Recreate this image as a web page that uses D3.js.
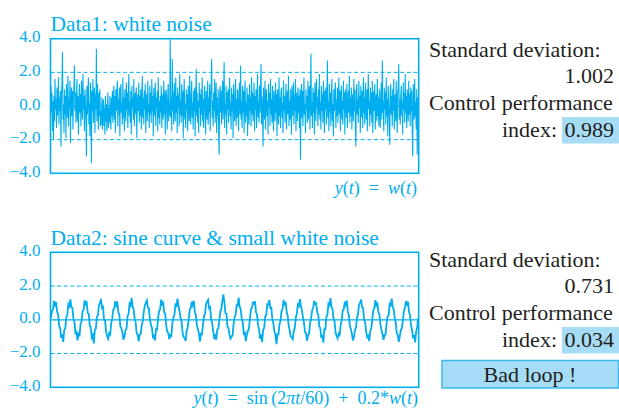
<!DOCTYPE html>
<html>
<head>
<meta charset="utf-8">
<script src="https://cdn.jsdelivr.net/npm/d3@7"></script>
<style>
  body { margin: 0; background: #fff; }
  svg { display: block; }
  text { font-family: "Liberation Serif", "Times New Roman", Times, "DejaVu Serif", serif; }
</style>
</head>
<body>
<svg id="chart" width="619" height="410"></svg>
<script>
// data1: white noise w(t) (about 2 samples per pixel)
var whiteNoise = [
  1.2, -0.4, 0.8, -1.5, 0.3, -2.0, 0.6, -0.9, 1.6, -0.2, 0.4, -1.3, 1.1, -0.6, 0.2, 1.7, -1.1, 0.5, -0.3, 0.9,
  -2.4, 0.7, 1.4, 3.2, -0.8, 0.1, -1.6, 1.0, -0.5, 0.6, -1.9, 1.3, 0.2, -0.7, 1.8, -1.2, 0.4, -0.1, 1.5, -2.2,
  0.3, 1.1, -0.6, 0.9, -1.4, 0.5, 1.2, 2.4, -0.3, 0.8, -1.0, 0.2, 1.6, -0.9, 0.6, -1.7, 0.1, 1.3, -0.4, 0.7,
  -1.2, 1.5, 0.4, -0.8, 1.9, -0.2, 0.6, -1.5, 1.0, 0.3, -0.7, -3.0, 1.2, -0.5, 0.8, 1.7, -1.1, 0.2, -1.8, 1.4,
  0.6, -3.4, 0.9, -0.3, 1.6, -1.0, 0.4, 1.1, -1.6, 0.7, -0.2, 3.4, -0.9, 1.3, 0.1, -1.4, 0.8, -0.6, 1.0, -1.2,
  -0.3, -1.1, 0.5, -1.4, -0.2, 0.4, -1.2, -0.1, -1.7, 0.6, -0.9, 0.1, -1.5, -0.4, 0.8, -1.3, -0.1, -1.0, 0.6, -0.8,
  -1.4, 0.5, -0.6, 0.9, -1.0, 0.3, 1.2, -0.8, 0.6, -1.6, 1.0, -0.3, 0.8, 1.5, -1.2, 0.4, -0.5, 1.1, -1.8, 0.7,
  1.3, -0.4, 0.2, -1.1, 1.7, -0.7, 0.5, -1.5, 1.0, 0.1, -0.9, 1.4, -0.2, 0.8, -1.3, 0.6, 1.9, -0.6, 0.3, -1.0,
  0.9, -1.7, 1.2, -0.1, 0.5, -0.8, 1.6, -1.2, 0.4, 0.8, -0.5, 1.1, -1.9, 0.2, 0.7, -0.3, 1.4, -1.0, 0.6, -0.6,
  1.0, -1.4, 0.3, 1.8, -0.7, 0.5, -1.1, 0.9, -0.2, 1.3, -1.6, 0.4, 0.7, -0.9, 1.5, -0.4, 0.1, -1.3, 1.2, -0.5,
  0.8, -1.0, 1.6, -0.3, 0.6, -1.8, 1.1, 0.2, -0.6, 1.4, -1.2, 0.5, -0.1, 0.9, -1.5, 1.7, -0.7, 0.3, -1.1, 0.6,
  -0.4, 1.2, -1.3, 0.7, 0.1, -0.8, 1.5, -0.5, 0.9, -1.7, 0.4, 1.0, -0.2, -1.4, 0.6, 1.3, -0.9, 0.2, -0.6, 3.95,
  -0.7, 0.5, -1.5, 2.8, -0.3, 0.8, -1.1, 1.4, 0.2, -0.9, 1.7, -0.4, 0.6, -1.6, 1.1, -0.1, 0.7, -1.2, 1.9, -0.5,
  0.3, -1.0, 1.3, -0.6, 0.9, -1.9, 0.4, 1.6, -0.8, 0.1, -1.3, 1.0, -0.2, 0.7, -1.5, 1.2, 0.5, -0.9, 1.8, -0.4,
  -1.1, 0.6, 1.5, -0.7, 0.2, -1.4, 0.9, -0.3, 1.1, -1.8, 0.4, 2.2, -0.6, 0.8, -1.0, 0.3, -1.6, 1.4, -0.1, 0.7,
  -1.2, 1.0, -0.5, 1.7, -0.9, 0.4, -1.3, 0.6, 1.2, -0.2, -1.7, 0.9, 0.1, -0.8, 1.5, -1.1, 0.5, -0.4, 1.3, -1.5,
  0.6, 1.1, 2.8, -0.7, 0.3, -1.2, 0.8, -0.3, 1.6, -1.0, 0.2, 1.4, -1.6, 0.5, -0.6, 1.0, -1.4, -2.9, 0.7, 1.2,
  -0.4, 0.9, -1.1, 0.3, 1.5, -0.8, 0.6, 2.6, -1.3, 0.1, -0.5, 1.2, -1.7, 0.8, -0.2, 1.0, -1.0, 0.4, 1.7, -0.6,
  0.2, -1.4, 1.1, -0.3, 0.7, -1.9, 1.3, 0.5, -0.9, 0.1, 1.6, -1.2, 0.4, -0.7, 1.0, -0.1, -1.5, 0.8, 1.4, -0.5,
  2.4, -0.8, 0.3, -1.3, 1.2, -0.4, 0.9, -1.6, 0.6, 1.5, -1.0, 0.2, -0.6, 1.1, -1.8, 0.7, 0.1, -1.1, 1.3, -0.3,
  0.5, -1.2, 1.7, -0.5, 0.8, -0.9, 0.2, 1.4, -1.5, 0.6, -0.2, 1.0, -1.3, 0.4, 1.9, -0.7, 0.3, -1.0, 1.2, -0.4,
  0.9, 2.5, -1.1, 0.6, -0.3, -2.4, 1.1, 0.2, -0.8, 1.5, -1.4, 0.5, 1.0, -0.6, 0.3, -1.7, 1.3, -0.1, 0.8, -1.2,
  1.6, -0.5, 0.4, -1.0, 1.2, -0.2, -1.5, 0.9, 0.1, -0.9, 1.4, -0.4, 0.7, -1.8, 1.0, 0.3, -1.1, 1.7, -0.6, 0.5,
  -1.3, 0.8, 1.1, -0.7, 0.2, -1.6, 1.5, -0.3, 0.6, -1.0, 0.4, 1.3, -1.4, 0.1, 0.9, -0.5, 1.8, -1.2, 0.3, -0.8,
  1.0, -0.1, -1.7, 1.2, 0.5, -0.6, 1.4, -1.1, 0.7, -0.3, 1.6, -1.5, 0.2, 0.8, -0.9, 1.1, -0.4, 0.6, -1.3, 1.0,
  -3.2, 0.4, 1.3, -0.7, 0.9, -1.2, 0.3, 1.7, -0.5, 0.1, -1.6, 1.0, -0.2, 0.6, -1.0, 1.5, -0.8, 0.4, 1.2, -1.4,
  0.7, 3.1, -0.6, 0.2, -1.3, 1.1, -0.4, 0.8, -1.7, 1.4, 0.3, -0.9, 1.6, -0.1, 0.5, -1.2, 1.0, -0.5, 1.9, -0.8,
  0.2, -1.4, 1.2, -0.3, 0.7, -1.0, 1.5, 0.4, -1.6, 0.9, -0.2, 1.1, -1.1, 0.6, 2.7, -0.7, 0.3, -1.5, 1.3, -0.4,
  0.8, -1.2, 0.5, 1.6, -0.9, 0.1, -1.8, 1.0, -0.3, 0.7, 1.4, -1.3, 0.4, -0.6, 1.1, -1.0, 0.2, 1.7, -0.5, 0.9,
  -1.5, 0.6, 1.2, -0.8, 0.3, -1.1, 1.5, -0.2, 0.8, -1.7, 1.0, 0.4, -0.7, 1.3, -1.3, 0.1, 0.9, -0.4, 1.8, -1.0,
  0.5, -0.6, 1.1, -1.4, 0.7, 0.2, -0.9, 1.6, -0.3, 1.0, -1.2, -2.4, 0.8, 1.3, -0.5, 0.4, -1.0, 1.5, -0.1, 0.6,
  -1.6, 1.2, 0.3, -0.7, 0.9, -1.3, 1.7, -0.4, 0.5, -1.1, 1.4, 0.1, -0.8, 1.0, -1.5, 0.6, 1.9, -0.2, 0.3, -1.2,
  1.1, -0.5, 0.8, -1.0, 1.5, -1.6, 0.4, 0.9, -0.3, 1.3, -1.4, 0.2, 0.7, -0.9, 1.6, -0.6, 0.5, -1.2, 1.0, -0.1,
  -1.3, 0.6, 1.4, -0.8, 2.7, -0.4, 0.3, -1.5, 1.1, -0.2, 0.8, -1.1, 1.7, -0.6, 0.4, -1.8, 1.2, 0.1, -0.7, -2.3,
  0.9, 1.3, -0.5, 0.6, -1.2, 1.0, -0.3, 1.6, -1.4, 0.2, 0.7, -0.9, 1.5, -0.1, -1.6, 0.8, 1.1, 2.5, -0.8, 0.4,
  -1.1, 0.5, 1.2, -0.6, 0.3, -1.7, 1.4, -0.2, 0.8, -1.0, 1.9, -0.4, 0.6, -1.3, 1.0, 0.2, -0.9, 1.5, -0.5, 0.7,
  -1.2, 1.1, -0.3, 0.9, -1.5, -3.0, 1.3, 0.4, -0.8, 1.6, -0.6, 0.2, -1.4, 1.0, -2.9, 0.5, -1.1
];

// data2: sine curve with a little noise (15 samples per period)
var sineNoise = [
  0.12, 0.55, 0.63, 1.12, 0.88, 1.05, 0.47, 0.33, -0.35, -0.52, -1.08, -0.86, -1.31, -0.62, -0.50,
  0.15, 0.30, 0.92, 0.81, 1.21, 0.74, 0.70, 0.05, -0.12, -0.78, -0.71, -1.22, -0.83, -0.90, -0.25,
  -0.10, 0.52, 0.60, 1.16, 0.93, 1.02, 0.40, 0.36, -0.38, -0.45, -1.05, -0.92, -1.40, -0.58, -0.52,
  0.18, 0.28, 0.88, 0.99, 1.24, 0.70, 0.76, 0.02, -0.05, -0.72, -0.98, -1.13, -0.80, -0.88, -0.22,
  0.05, 0.60, 0.66, 1.10, 0.86, 1.08, 0.45, 0.30, -0.40, -0.50, -0.75, -1.18, -1.02, -0.60, -0.55,
  0.20, 0.33, 0.95, 0.84, 1.30, 0.78, 0.62, 0.10, -0.15, -0.80, -0.90, -1.28, -0.85, -0.83, -0.30,
  -0.08, 0.48, 0.85, 1.02, 1.14, 0.72, 0.68, 0.00, -0.30, -0.48, -1.10, -0.88, -1.22, -0.55, -0.58,
  0.10, 0.55, 0.62, 1.20, 0.92, 1.00, 0.42, 0.38, -0.36, -0.70, -0.79, -1.15, -0.90, -0.95, -0.20,
  0.15, 0.27, 0.90, 0.83, 1.25, 0.80, 0.54, 0.12, -0.10, -0.76, -1.02, -1.08, -1.25, -0.63, -0.48,
  0.02, 0.58, 0.70, 1.08, 0.87, 1.12, 0.46, 0.29, -0.33, -0.55, -0.80, -1.30, -0.84, -0.86, -0.26,
  0.22, 0.35, 0.93, 1.06, 1.18, 0.68, 0.74, 0.04, -0.18, -0.66, -1.06, -0.94, -1.18, -0.58, -0.52,
  -0.05, 0.50, 0.66, 1.14, 1.50, 1.03, 0.40, 0.35, -0.40, -0.50, -0.92, -1.12, -1.00, -0.92, -0.24,
  0.16, 0.30, 0.86, 0.85, 1.32, 0.75, 0.64, 0.08, -0.12, -0.82, -0.76, -1.26, -0.88, -0.66, -0.54,
  0.04, 0.62, 0.70, 1.02, 0.96, 1.10, 0.44, 0.31, -0.32, -0.56, -1.12, -0.86, -1.32, -0.60, -0.48,
  0.20, 0.28, 0.92, 0.90, 1.16, 0.70, 0.72, 0.02, -0.20, -0.70, -0.84, -1.45, -0.86, -0.86, -0.28,
  -0.06, 0.52, 0.64, 1.18, 0.86, 1.06, 0.50, 0.26, -0.34, -0.62, -1.00, -1.04, -1.15, -0.64, -0.50,
  0.14, 0.36, 0.90, 0.82, 1.22, 0.80, 0.58, 0.14, -0.16, -0.74, -0.78, -1.24, -0.92, -0.82, -0.20,
  0.08, 0.56, 0.68, 1.12, 0.94, 0.98, 0.42, 0.34, -0.38, -0.50, -1.08, -0.90, -1.36, -0.56, -0.56,
  0.18, 0.30, 0.96, 0.88, 1.28, 0.72, 0.66, 0.06, -0.08, -0.78, -0.94, -1.10, -0.82, -0.90, -0.30,
  -0.02, 0.54, 0.62, 1.06, 0.90, 1.14, 0.48, 0.28, -0.36, -0.54, -0.82, -1.22, -1.04, -0.62, -0.46,
  0.12, 0.34, 0.88, 1.00, 1.20, 0.74, 0.70, 0.00, -0.14, -0.72, -1.04, -0.96, -1.26, -0.66, -0.52,
  0.06, 0.58, 0.66, 1.16, 0.88, 1.04, 0.44, 0.32, -0.30, -0.60, -0.86, -1.18, -0.88, -0.88, -0.22,
  0.20, 0.26, 0.94, 0.86, 1.26, 0.78, 0.60, 0.10, -0.18, -0.80, -0.92, -1.30, -0.96, -0.60, -0.50,
  0.00, 0.52, 0.72, 1.10, 0.92, 1.08, 0.46, 0.30, -0.34, -0.58, -1.10, -0.90, -1.34, -0.70, -0.44,
  0.10
];

var yTicks = [4, 2, 0, -2, -4];
var limitLines = [2, -2];
var titles = ['Data1: white noise', 'Data2: sine curve & small white noise'];
var stdDevs = ['1.002', '0.731'];
var cpIndex = ['0.989', '0.034'];
var verdict = 'Bad loop !';

var CYAN = '#00aeef';
var TEXT = '#231f20';
var HILITE = '#a6dcf5';

var svg = d3.select('#chart');
var fmt = d3.format('.1f');

var panels = [
  { data: whiteNoise, top: 38.7, bottom: 173.3, titleY: 31, lw: 1.1 },
  { data: sineNoise, top: 252.3, bottom: 387.3, titleY: 245, lw: 1.8 }
];

var left = 50.5, right = 418.7;

panels.forEach(function(p, k) {
  var x = d3.scaleLinear().domain([0, p.data.length - 1]).range([left + 0.5, right - 0.5]);
  var y = d3.scaleLinear().domain([-4, 4]).range([p.bottom, p.top]);
  var g = svg.append('g');

  g.append('text')
    .attr('x', left)
    .attr('y', p.titleY)
    .style('font-size', '21.5px')
    .style('fill', CYAN)
    .text(titles[k]);

  // y axis labels
  var axis = d3.axisLeft(y).tickValues(yTicks).tickSize(0).tickPadding(10).tickFormat(fmt);
  var ag = g.append('g').attr('transform', 'translate(' + left + ',0)').call(axis);
  ag.select('.domain').remove();
  ag.attr('font-family', null).attr('font-size', null);
  ag.selectAll('text')
    .attr('dy', '0.18em')
    .style('font-size', '17px')
    .style('fill', CYAN);

  // +-2 limits
  g.selectAll('line.limit')
    .data(limitLines)
    .enter().append('line')
    .attr('class', 'limit')
    .attr('x1', left).attr('x2', right)
    .attr('y1', function(d) { return y(d); })
    .attr('y2', function(d) { return y(d); })
    .style('stroke', CYAN)
    .style('stroke-width', 1)
    .style('stroke-dasharray', '4,2.6');

  g.append('line')
    .attr('x1', left).attr('x2', right)
    .attr('y1', y(0)).attr('y2', y(0))
    .style('stroke', CYAN)
    .style('stroke-width', 1.2);

  var line = d3.line()
    .x(function(d, i) { return x(i); })
    .y(function(d) { return y(Math.max(-4, Math.min(4, d))); });

  g.append('path')
    .datum(p.data)
    .attr('d', line)
    .style('fill', 'none')
    .style('stroke', CYAN)
    .style('stroke-width', p.lw);

  g.append('rect')
    .attr('x', left).attr('y', p.top)
    .attr('width', right - left).attr('height', p.bottom - p.top)
    .style('fill', 'none')
    .style('stroke', CYAN)
    .style('stroke-width', 1.6);

  // right hand side stats
  var base = k === 0 ? 56.7 : 266.7;
  var step = 26.6;
  var txt = function(xx, yy, anchor, s) {
    return g.append('text')
      .attr('x', xx).attr('y', yy)
      .attr('text-anchor', anchor)
      .style('font-size', '22px')
      .style('fill', TEXT)
      .text(s);
  };
  txt(429, base, 'start', 'Standard deviation:');
  txt(614, base + step, 'end', stdDevs[k]);
  txt(429, base + step * 2, 'start', 'Control performance');
  g.append('rect')
    .attr('x', 562).attr('y', base + step * 3 - 19.5)
    .attr('width', 57).attr('height', 26.5)
    .style('fill', HILITE);
  txt(557, base + step * 3, 'end', 'index:');
  txt(614, base + step * 3, 'end', cpIndex[k]);
});

// formulas under the panels
var formula = function(xx, yy, parts) {
  var t = svg.append('text')
    .attr('x', xx).attr('y', yy)
    .attr('text-anchor', 'end')
    .style('font-size', '18px')
    .style('fill', CYAN);
  parts.forEach(function(p) {
    t.append('tspan')
      .style('font-style', p[1] ? 'italic' : 'normal')
      .text(p[0]);
  });
};
formula(417, 194, [['y', 1], ['(', 0], ['t', 1], [')\u2002=\u2002', 0], ['w', 1], ['(', 0], ['t', 1], [')', 0]]);
formula(418, 404, [['y', 1], ['(', 0], ['t', 1], [')\u2002=\u2002sin\u2009(2', 0], ['\u03c0t', 1], ['/60)\u2002+\u20020.2*', 0], ['w', 1], ['(', 0], ['t', 1], [')', 0]]);

// verdict box
svg.append('rect')
  .attr('x', 442).attr('y', 360.5)
  .attr('width', 176.5).attr('height', 27.5)
  .style('fill', HILITE)
  .style('stroke', '#3db8ea')
  .style('stroke-width', 1.5);
svg.append('text')
  .attr('x', 530).attr('y', 382)
  .attr('text-anchor', 'middle')
  .style('font-size', '22px')
  .style('fill', TEXT)
  .text(verdict);
</script>
</body>
</html>
